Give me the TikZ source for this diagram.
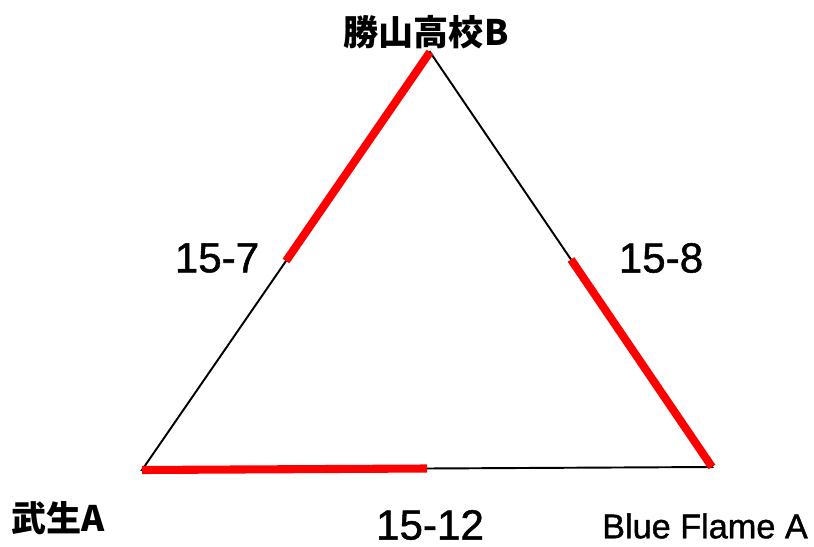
\documentclass[tikz,border=0pt]{standalone}
\usepackage{fontspec}
\setmainfont{Liberation Sans}
\newfontfamily\semibold[FakeBold=1.2]{Liberation Sans}
\newfontfamily\cjk{Noto Sans CJK JP}
\usetikzlibrary{calc}
\definecolor{cred}{HTML}{FF0000}
\tikzset{
  every picture/.style={line width=1pt},
  side/.style={draw=black, line width=1.1pt},
  won/.style={draw=cred, line width=4.6pt},
  score/.style={font=\semibold\fontsize{24}{28}\selectfont},
  team/.style={font=\cjk\bfseries\fontsize{20}{24}\selectfont},
  teamlat/.style={font=\semibold\fontsize{19.5}{23}\selectfont},
}
\begin{document}
\begin{tikzpicture}[x=0.02cm, y=-0.02cm]
  \useasboundingbox (0,0) rectangle (814,547);
  \coordinate (top) at (430,52);
  \coordinate (bl) at (142,470);
  \coordinate (br) at (712,467);
  \draw[side] (top) -- (bl) -- (br) -- cycle;
  \draw[won] (top) -- ($(top)!0.5!(bl)$);
  \draw[won] ($(top)!0.5!(br)$) -- (br);
  \draw[won] (bl) -- ($(bl)!0.5!(br)$);
  \node[team] (katsu) at (426,32) {勝山高校B};
  \node[team] (takefu) at (58,518) {武生A};
  \node[teamlat] (blue) at (705,526) {Blue Flame A};
  \node[score] (s1) at (217,258) {15-7};
  \node[score] (s2) at (661,258) {15-8};
  \node[score] (s3) at (430,525) {15-12};
\end{tikzpicture}
\end{document}
